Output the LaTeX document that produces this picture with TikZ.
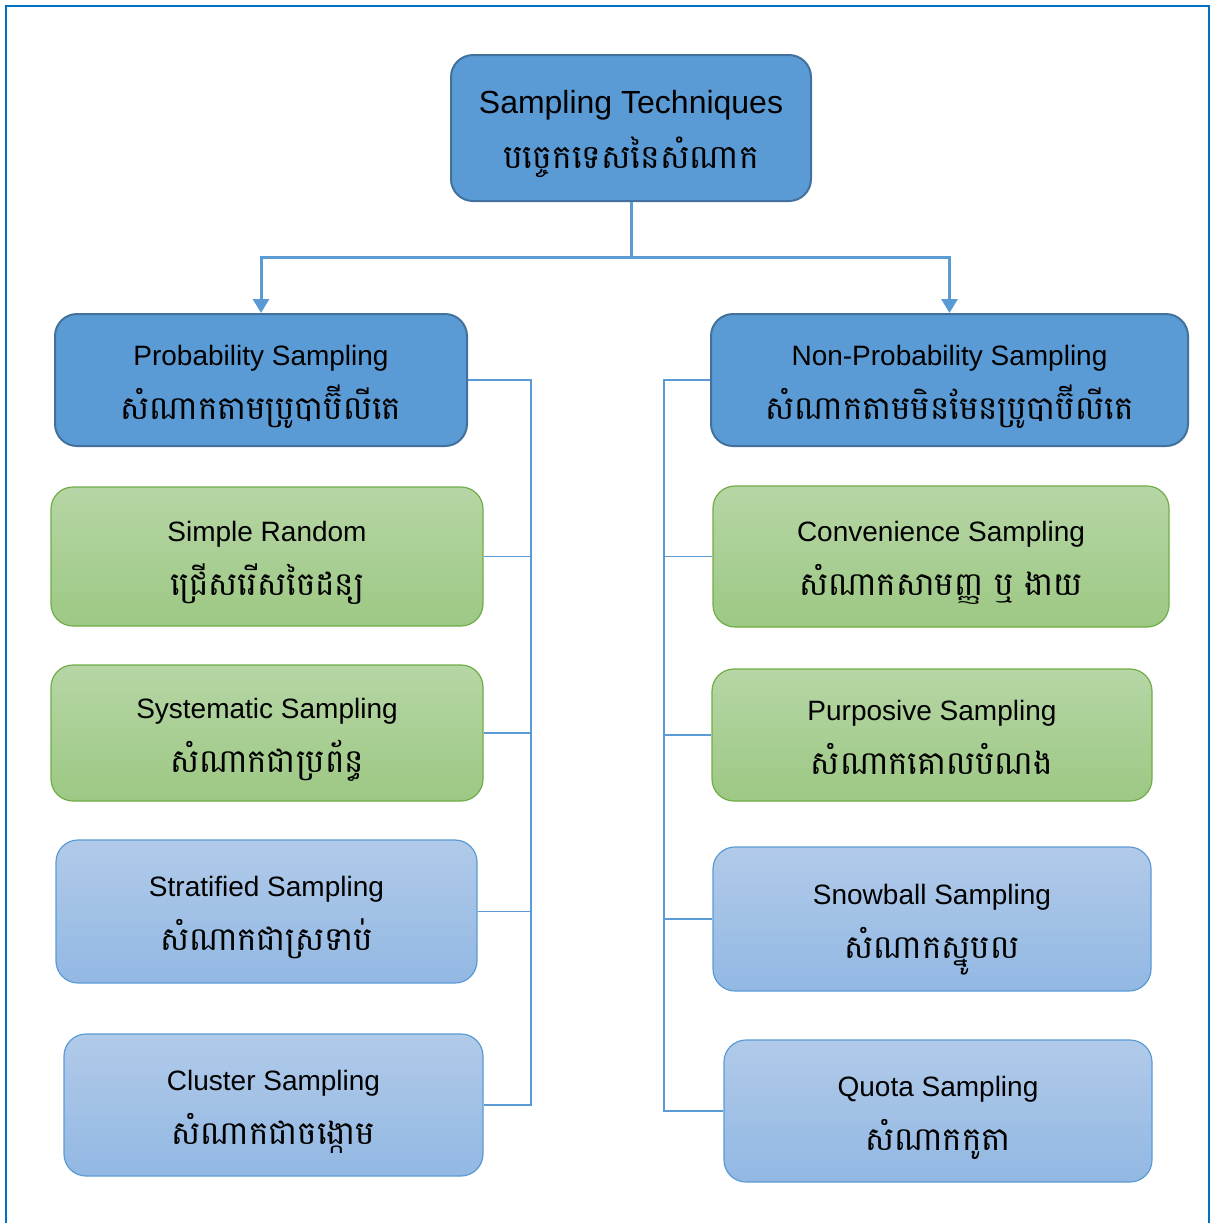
\documentclass[tikz,border=0pt]{standalone}
\usepackage{fontspec}
\setmainfont{Liberation Sans}
\newfontfamily\khmerfont[Script=Khmer,Scale=1.16]{Battambang}
\newfontfamily\khmertop[Script=Khmer,Scale=1.03]{Battambang}
\usetikzlibrary{arrows.meta}
\definecolor{framecol}{RGB}{0,112,192}
\definecolor{headfill}{RGB}{91,155,213}
\definecolor{headline}{RGB}{65,113,156}
\definecolor{greentop}{RGB}{182,214,165}
\definecolor{greenbot}{RGB}{157,200,132}
\definecolor{greenline}{RGB}{112,173,71}
\definecolor{bluetop}{RGB}{177,202,233}
\definecolor{bluebot}{RGB}{146,184,227}
\definecolor{linkcol}{RGB}{91,155,213}

\begin{document}
\begin{tikzpicture}[x=0.5pt,y=0.5pt,yscale=-1,
    headbox/.style={draw=headline, fill=headfill, line width=1pt, rounded corners=11pt, align=center, inner sep=0pt},
    greenbox/.style={draw=greenline, top color=greentop, bottom color=greenbot, line width=0.6pt, rounded corners=11pt, align=center, inner sep=0pt},
    bluebox/.style={draw=headfill, top color=bluetop, bottom color=bluebot, line width=0.6pt, rounded corners=11pt, align=center, inner sep=0pt},
    bigtext/.style={font=\fontsize{16}{27.5}\selectfont, text height=40pt, text depth=0pt},
    boxtext/.style={font=\fontsize{14}{27}\selectfont, text height=39pt, text depth=0pt},
    trunk/.style={draw=linkcol, line width=1.5pt},
    twig/.style={draw=linkcol, line width=0.75pt}]
    \useasboundingbox (0,0) rectangle (1216,1223);

    %Shape: Frame
    \draw [color=framecol, line width=1.3pt] (6,1240) -- (6,6) -- (1209,6) -- (1209,1240) ;

    % Root Node
    \node [headbox, bigtext, minimum width=180pt, minimum height=73pt] (tech) at (631,128) {Sampling Techniques\\{\khmertop បច្ចេកទេសនៃសំណាក}};
    % Branch Nodes
    \node [headbox, boxtext, minimum width=206pt, minimum height=66pt] (prob) at (261,380) {Probability Sampling\\{\khmerfont សំណាកតាមប្រូបាប៊ីលីតេ}};
    \node [headbox, boxtext, minimum width=238.5pt, minimum height=66pt] (nonprob) at (949.5,380) {Non-Probability Sampling\\{\khmerfont សំណាកតាមមិនមែនប្រូបាប៊ីលីតេ}};

    % Probability methods
    \node [greenbox, boxtext, minimum width=216pt, minimum height=69.5pt] (simple) at (267,556.5) {Simple Random\\{\khmerfont ជ្រើសរើសចៃដន្យ}};
    \node [greenbox, boxtext, minimum width=216pt, minimum height=68pt] (system) at (267,733) {Systematic Sampling\\{\khmerfont សំណាកជាប្រព័ន្ធ}};
    \node [bluebox, boxtext, minimum width=210.5pt, minimum height=71.5pt] (strat) at (266.5,911.5) {Stratified Sampling\\{\khmerfont សំណាកជាស្រទាប់}};
    \node [bluebox, boxtext, minimum width=209.5pt, minimum height=71pt] (cluster) at (273.5,1105) {Cluster Sampling\\{\khmerfont សំណាកជាចង្កោម}};

    % Non-probability methods
    \node [greenbox, boxtext, minimum width=228pt, minimum height=70.5pt] (conv) at (941,556.5) {Convenience Sampling\\{\khmerfont សំណាកសាមញ្ញ ឬ ងាយ}};
    \node [greenbox, boxtext, minimum width=220pt, minimum height=66pt] (purp) at (932,735) {Purposive Sampling\\{\khmerfont សំណាកគោលបំណង}};
    \node [bluebox, boxtext, minimum width=219pt, minimum height=72pt] (snow) at (932,919) {Snowball Sampling\\{\khmerfont សំណាកស្នូបល}};
    \node [bluebox, boxtext, minimum width=214pt, minimum height=71pt] (quota) at (938,1111) {Quota Sampling\\{\khmerfont សំណាកកូតា}};

    % Connectors
    \coordinate (split) at (631,257);
    \coordinate (lbar) at (531,0);
    \coordinate (rbar) at (664,0);
    \draw [trunk] (tech.south) -- (split);
    \draw [trunk, -{Triangle[width=8pt,length=7pt]}] (split) -| (prob.north);
    \draw [trunk, -{Triangle[width=8pt,length=7pt]}] (split) -| (nonprob.north);

    \draw [twig] (prob.east) -- (prob.east -| lbar) -- (cluster.east -| lbar) -- (cluster.east);
    \foreach \n in {simple,system,strat}
        \draw [twig] (\n.east) -- (\n.east -| lbar);

    \draw [twig] (nonprob.west) -- (nonprob.west -| rbar) -- (quota.west -| rbar) -- (quota.west);
    \foreach \n in {conv,purp,snow}
        \draw [twig] (\n.west) -- (\n.west -| rbar);

\end{tikzpicture}
\end{document}
